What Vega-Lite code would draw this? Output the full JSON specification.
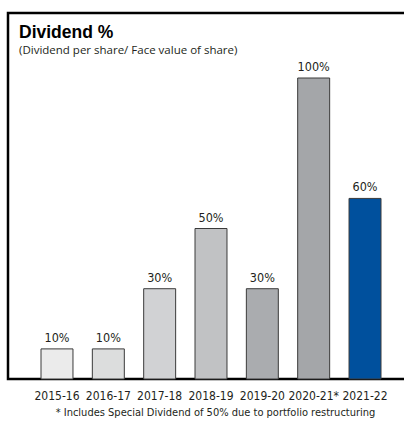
{
  "$schema": "https://vega.github.io/schema/vega-lite/v6.json",
  "autosize": "none",
  "padding": {"left": 8, "top": 13, "right": 0, "bottom": 42},
  "width": 430,
  "height": 366,
  "background": "white",
  "config": {
    "view": {"stroke": "#000000", "strokeWidth": 2.5},
    "font": "Liberation Sans"
  },
  "title": {
    "text": "Dividend %",
    "subtitle": "(Dividend per share/ Face value of share)",
    "anchor": "start",
    "frame": "group",
    "orient": "top",
    "offset": -43,
    "dx": 11,
    "font": "Liberation Sans",
    "fontSize": 17.5,
    "fontWeight": "bold",
    "color": "#000000",
    "subtitleFont": "Open Sans",
    "subtitleFontSize": 11.5,
    "subtitleColor": "#231f20",
    "subtitlePadding": 3
  },
  "data": {
    "values": [
      {"year": "2015-16", "pct": 10, "label": "10%", "color": "#ebebeb"},
      {"year": "2016-17", "pct": 10, "label": "10%", "color": "#dcdddd"},
      {"year": "2017-18", "pct": 30, "label": "30%", "color": "#d1d2d4"},
      {"year": "2018-19", "pct": 50, "label": "50%", "color": "#c1c2c4"},
      {"year": "2019-20", "pct": 30, "label": "30%", "color": "#aaacaf"},
      {"year": "2020-21*", "pct": 100, "label": "100%", "color": "#a4a6a9"},
      {"year": "2021-22", "pct": 60, "label": "60%", "color": "#00509d"}
    ]
  },
  "encoding": {
    "x": {
      "field": "year",
      "type": "nominal",
      "sort": null,
      "scale": {"range": [33, 373], "paddingInner": 0.377, "paddingOuter": 0},
      "axis": {
        "title": "* Includes Special Dividend of 50% due to portfolio restructuring",
        "titleFont": "DejaVu Sans Condensed, Liberation Sans",
        "titleFontSize": 11,
        "titleFontWeight": "normal",
        "titleColor": "#231f20",
        "titlePadding": 5,
        "titleX": 207,
        "labelAngle": 0,
        "labelFont": "DejaVu Sans Condensed, Liberation Sans",
        "labelFontSize": 12,
        "labelColor": "#231f20",
        "labelPadding": 11,
        "domain": false,
        "ticks": false,
        "grid": false
      }
    },
    "y": {
      "field": "pct",
      "type": "quantitative",
      "scale": {"domain": [0, 121.6], "nice": false, "zero": true},
      "axis": null
    }
  },
  "layer": [
    {
      "mark": {"type": "bar", "stroke": "#3a3a3a", "strokeWidth": 1},
      "encoding": {
        "color": {"field": "color", "type": "nominal", "scale": null, "legend": null}
      }
    },
    {
      "mark": {"type": "text", "baseline": "alphabetic", "dy": -7, "fontSize": 12.5, "color": "#231f20", "font": "DejaVu Sans Condensed, Liberation Sans"},
      "encoding": {"text": {"field": "label"}}
    }
  ]
}
